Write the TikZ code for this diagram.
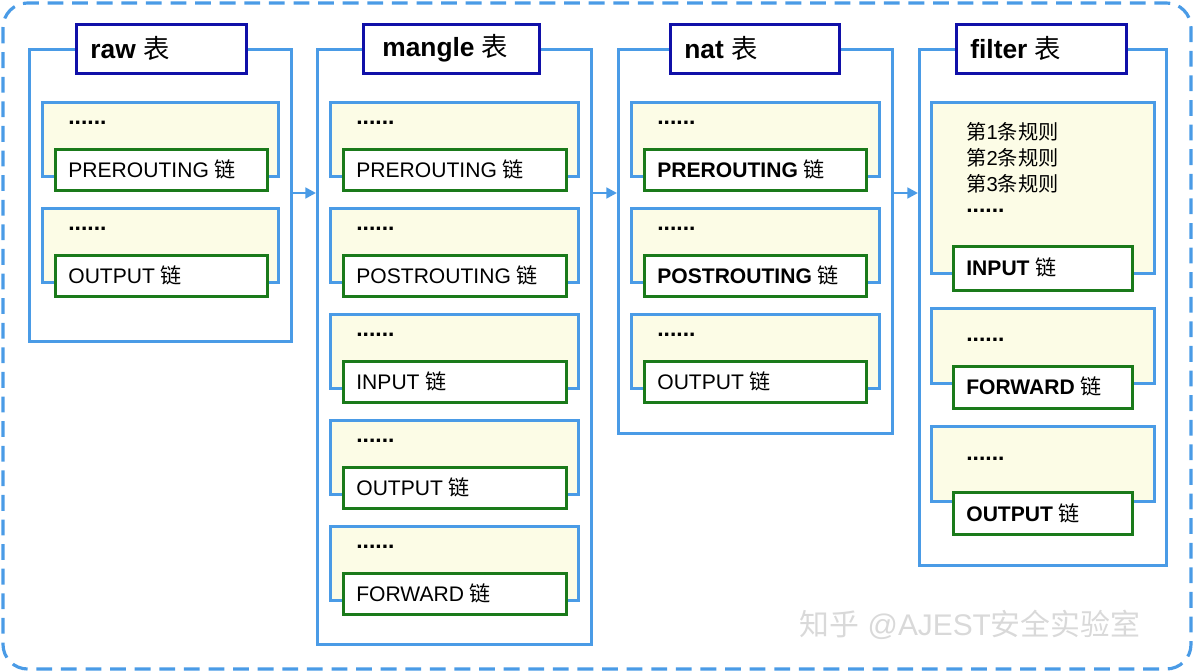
\documentclass[tikz,border=0pt]{standalone}
\usepackage{fontspec}
\setmainfont{Liberation Sans}
\newfontfamily\cjk{Noto Sans CJK SC}
\usetikzlibrary{arrows.meta}
\definecolor{lblue}{HTML}{4A9BE6}
\definecolor{dgreen}{HTML}{1A7A1A}
\definecolor{tblue}{HTML}{1010A8}
\definecolor{cream}{HTML}{FCFCE6}
\newcommand{\C}[1]{{\cjk\mdseries #1}}
\tikzset{
 px/.style={x=0.02cm,y=-0.02cm},
 outerbox/.style={draw=lblue,line width=1.6pt,fill=white,inner sep=0pt,anchor=north west},
 titlebox/.style={draw=tblue,line width=1.6pt,fill=white,inner sep=0pt,anchor=north west},
 contbox/.style={draw=lblue,line width=1.6pt,fill=cream,inner sep=0pt,anchor=north west},
 chainbox/.style={draw=dgreen,line width=1.6pt,fill=white,inner sep=0pt,anchor=north west},
 lbl/.style={anchor=west,inner sep=0pt,font=\fontsize{12}{14}\selectfont},
 dots/.style={anchor=west,inner sep=0pt,font=\fontsize{13}{14}\selectfont\bfseries},
 ttl/.style={anchor=west,inner sep=0pt,font=\fontsize{15}{18}\selectfont\bfseries},
 arr/.style={draw=lblue,line width=1.6pt,-{Triangle[length=6pt,width=6pt]}}
}
\newcommand{\bx}[6]{\node[#2,minimum width={#5*0.02cm},minimum height={#6*0.02cm}] (#1) at (#3,#4) {};}
\newcommand{\chainset}[7]{%
 \bx{#1c}{contbox}{#2}{#3}{#4}{74}
 \node[dots] (#1d) at (#2+27,#3+22) {......};
 \bx{#1g}{chainbox}{#2+13}{#3+47}{#5}{41}
 \node[lbl,font=\fontsize{12}{14}\selectfont#7] (#1t) at (#2+27,#3+68) {#6 \C{链}};}
\begin{document}
\begin{tikzpicture}[px]
\useasboundingbox (0,0) rectangle (1194,672);
\draw[lblue,line width=1.8pt,dashed,dash pattern=on 9pt off 5pt,rounded corners=14pt] (3,3) rectangle (1191,669);
\node[anchor=center,text=black!15,font=\fontsize{17}{20}\selectfont] (wm) at (970,625) {\C{知乎} @AJEST\C{安全实验室}};
% raw
\bx{raw}{outerbox}{28}{48}{262}{292}
\bx{rawt}{titlebox}{75}{23}{170}{49}
\node[ttl] (rawl) at (90,48) {raw \C{表}};
\chainset{r1}{41}{101}{236}{212}{PREROUTING}{}
\chainset{r2}{41}{207}{236}{212}{OUTPUT}{}
% mangle
\bx{man}{outerbox}{316}{48}{274}{595}
\bx{mant}{titlebox}{362}{23}{176}{49}
\node[ttl] (manl) at (382,48) {mangle \C{表}};
\chainset{m1}{329}{101}{248}{223}{PREROUTING}{}
\chainset{m2}{329}{207}{248}{223}{POSTROUTING}{}
\chainset{m3}{329}{313}{248}{223}{INPUT}{}
\chainset{m4}{329}{419}{248}{223}{OUTPUT}{}
\chainset{m5}{329}{525}{248}{223}{FORWARD}{}
% nat
\bx{nat}{outerbox}{617}{48}{274}{384}
\bx{natt}{titlebox}{669}{23}{169}{49}
\node[ttl] (natl) at (684,48) {nat \C{表}};
\chainset{n1}{630}{101}{248}{222}{PREROUTING}{\bfseries}
\chainset{n2}{630}{207}{248}{222}{POSTROUTING}{\bfseries}
\chainset{n3}{630}{313}{248}{222}{OUTPUT}{}
% filter
\bx{fil}{outerbox}{918}{48}{247}{516}
\bx{filt}{titlebox}{955}{23}{170}{49}
\node[ttl] (fill) at (970,48) {filter \C{表}};
\bx{f1c}{contbox}{930}{101}{223}{171}
\node[anchor=north west,inner sep=0pt,align=left,font=\fontsize{11.5}{14.8}\selectfont] (f1r) at (966,122) {\C{第}1\C{条规则}\\\C{第}2\C{条规则}\\\C{第}3\C{条规则}};
\node[dots] (f1d) at (966,211) {......};
\bx{f1g}{chainbox}{952}{245}{179}{44}
\node[lbl,font=\fontsize{12}{14}\selectfont\bfseries] (f1t) at (966,267) {INPUT \C{链}};
\bx{f2c}{contbox}{930}{307}{223}{75}
\node[dots] (f2d) at (966,340) {......};
\bx{f2g}{chainbox}{952}{365}{179}{42}
\node[lbl,font=\fontsize{12}{14}\selectfont\bfseries] (f2t) at (966,386) {FORWARD \C{链}};
\bx{f3c}{contbox}{930}{425}{223}{75}
\node[dots] (f3d) at (966,459) {......};
\bx{f3g}{chainbox}{952}{491}{179}{42}
\node[lbl,font=\fontsize{12}{14}\selectfont\bfseries] (f3t) at (966,513) {OUTPUT \C{链}};
% arrows
\coordinate (ay) at (0,193);
\draw[arr] (raw.east |- ay) -- (man.west |- ay);
\draw[arr] (man.east |- ay) -- (nat.west |- ay);
\draw[arr] (nat.east |- ay) -- (fil.west |- ay);
\end{tikzpicture}
\end{document}
